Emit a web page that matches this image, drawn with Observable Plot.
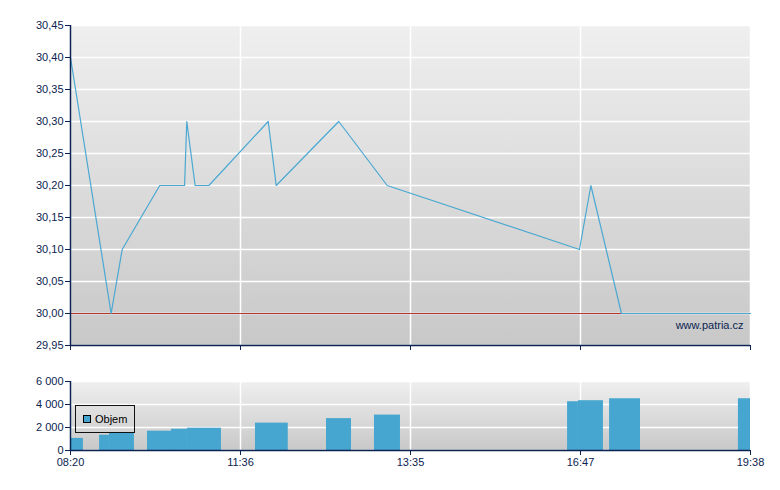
<!DOCTYPE html>
<html>
<head>
<meta charset="utf-8">
<script src="https://cdn.jsdelivr.net/npm/d3@7"></script>
<script src="https://cdn.jsdelivr.net/npm/@observablehq/plot@0.6"></script>
<style>
  body { margin: 0; background: #ffffff; }
  #wrap { position: relative; width: 780px; height: 490px; font-family: "Liberation Sans", Arial, sans-serif; }
  #top, #bottom { position: absolute; left: 0; }
  #top { top: 0; }
  #bottom { top: 360px; }
  #legend { position: absolute; left: 75px; top: 405px; width: 58px; height: 26px; border: 1px solid #111; 
            font-size: 11px; color: #000; }
  #legend .sw { position: absolute; left: 7px; top: 9px; width: 6px; height: 6px; background: #46a6cf; border: 1px solid #000; }
  #legend .lb { position: absolute; left: 19px; top: 7px; line-height: 12px; }
</style>
</head>
<body>
<div id="wrap">
  <div id="top"></div>
  <div id="bottom"></div>
  <div id="legend"><div class="sw"></div><div class="lb">Objem</div></div>
</div>
<script>
// Time axis: session positions (non-linear time), labelled at slots 0..4
const timeLabels = ["08:20", "11:36", "13:35", "16:47", "19:38"];
const timeSlots = [0, 1, 2, 3, 4];

// Price line (x in session slot units)
const pricePos = [0, 0.239, 0.304, 0.525, 0.671, 0.684, 0.733, 0.814, 1.163, 1.210, 1.578, 1.863, 2.994, 3.061, 3.241, 4.0];
const priceVal = [30.40, 30.00, 30.10, 30.20, 30.20, 30.30, 30.20, 30.20, 30.30, 30.20, 30.30, 30.20, 30.10, 30.20, 30.00, 30.00];
const prevClose = 30.00;
const priceTicks = [29.95, 30.00, 30.05, 30.10, 30.15, 30.20, 30.25, 30.30, 30.35, 30.40, 30.45];

// Volume bars
const volStart = [0.0, 0.171, 0.229, 0.453, 0.594, 0.688, 1.088, 1.506, 1.788, 2.924, 2.988, 3.171, 3.929];
const volEnd   = [0.076, 0.229, 0.376, 0.594, 0.688, 0.888, 1.281, 1.653, 1.941, 2.988, 3.135, 3.353, 4.0];
const volVal   = [1050, 1330, 1500, 1680, 1850, 1940, 2380, 2770, 3080, 4240, 4330, 4500, 4500];
const volTicks = [0, 2000, 4000, 6000];

const navy = "#0b2350";
const font = "'Liberation Sans', Arial, sans-serif";

const priceData = pricePos.map((p, i) => ({x: p, y: priceVal[i]}));
const volData = volStart.map((s, i) => ({x1: s, x2: volEnd[i], v: volVal[i]}));

function addGradient(svg, id) {
  d3.select(svg).insert("defs", ":first-child").html(
    `<linearGradient id="${id}" x1="0" y1="0" x2="0" y2="1">
       <stop offset="0" stop-color="#efefef"/>
       <stop offset="1" stop-color="#c8c8c8"/>
     </linearGradient>`);
}

const topPlot = Plot.plot({
  width: 780, height: 355,
  marginLeft: 70, marginRight: 30, marginTop: 25, marginBottom: 10,
  style: {fontFamily: font, fontSize: "11px", color: navy, background: "transparent"},
  x: {domain: [0, 4], axis: null},
  y: {domain: [29.95, 30.45], axis: null},
  marks: [
    Plot.frame({fill: "url(#gTop)", stroke: null}),
    Plot.gridX(timeSlots, {stroke: "#ffffff", strokeOpacity: 1, strokeWidth: 1.5}),
    Plot.gridY(priceTicks, {stroke: "#ffffff", strokeOpacity: 1, strokeWidth: 1.5}),
    Plot.ruleY([prevClose], {stroke: "#b5382f", strokeWidth: 1}),
    Plot.line(priceData, {x: "x", y: "y", stroke: "#4aa8d2", strokeWidth: 1.2}),
    Plot.text(["www.patria.cz"], {text: d => d, frameAnchor: "bottom-right", dx: -7, dy: -17, fontSize: 11, fill: navy}),
    Plot.axisY(priceTicks, {label: null, tickSize: 5, tickPadding: 2, tickFormat: d => d.toFixed(2).replace(".", ","), fontSize: 11}),
    Plot.axisX(timeSlots, {label: null, tickSize: 5, tickFormat: () => ""}),
    Plot.ruleX([0], {stroke: navy, strokeWidth: 1.5}),
    Plot.ruleY([29.95], {stroke: navy, strokeWidth: 1.5})
  ]
});
addGradient(topPlot, "gTop");
document.getElementById("top").appendChild(topPlot);

const botPlot = Plot.plot({
  width: 780, height: 130,
  marginLeft: 70, marginRight: 30, marginTop: 21, marginBottom: 40,
  style: {fontFamily: font, fontSize: "11px", color: navy, background: "transparent"},
  x: {domain: [0, 4], axis: null},
  y: {domain: [0, 6000], axis: null},
  marks: [
    Plot.frame({fill: "url(#gBot)", stroke: null}),
    Plot.gridX(timeSlots, {stroke: "#ffffff", strokeOpacity: 1, strokeWidth: 1.5}),
    Plot.gridY(volTicks, {stroke: "#ffffff", strokeOpacity: 1, strokeWidth: 1.5}),
    Plot.rectY(volData, {x1: "x1", x2: "x2", y: "v", fill: "#46a6cf", inset: 0}),
    Plot.axisY(volTicks, {label: null, tickSize: 5, tickPadding: 2, tickFormat: d => d3.format(",")(d).replace(/,/g, " "), fontSize: 11}),
    Plot.axisX(timeSlots, {label: null, tickSize: 5, tickPadding: 3, tickFormat: (d, i) => timeLabels[i], fontSize: 11}),
    Plot.ruleX([0], {stroke: navy, strokeWidth: 1.5}),
    Plot.ruleY([0], {stroke: navy, strokeWidth: 1.5})
  ]
});
addGradient(botPlot, "gBot");
document.getElementById("bottom").appendChild(botPlot);
</script>
</body>
</html>
